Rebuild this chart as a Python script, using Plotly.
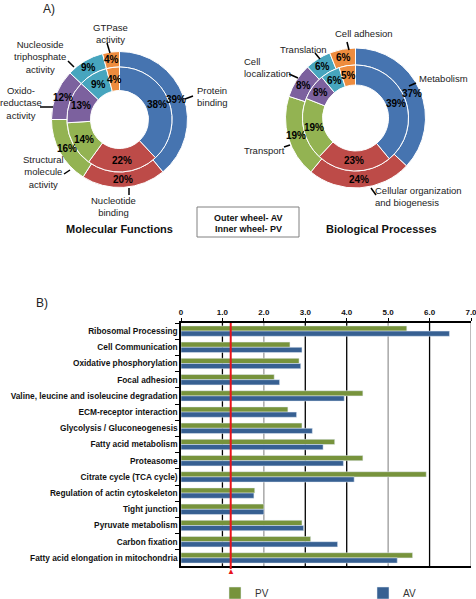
import math
import plotly.graph_objects as go

W, H = 476, 599

# ---------------- Data ----------------
mf_labels = ["Protein binding", "Nucleotide binding", "Structural molecule activity",
             "Oxido-reductase activity", "Nucleoside triphosphate activity", "GTPase activity"]
mf_outer_av = [39, 20, 16, 12, 9, 4]
mf_inner_pv = [38, 22, 14, 13, 9, 4]

bp_labels = ["Metabolism", "Cellular organization and biogenesis", "Transport",
             "Cell localization", "Translation", "Cell adhesion"]
bp_outer_av = [37, 24, 19, 8, 6, 6]
bp_inner_pv = [39, 23, 19, 8, 6, 5]

pie_colors = ["#4674B0", "#BD4B48", "#93B352", "#7C619E", "#47A5BE", "#EE8C3E"]

pathways = ["Ribosomal Processing", "Cell Communication", "Oxidative phosphorylation",
            "Focal adhesion", "Valine, leucine and isoleucine degradation",
            "ECM-receptor interaction", "Glycolysis / Gluconeogenesis",
            "Fatty acid metabolism", "Proteasome", "Citrate cycle (TCA cycle)",
            "Regulation of actin cytoskeleton", "Tight junction", "Pyruvate metabolism",
            "Carbon fixation", "Fatty acid elongation in mitochondria"]
pv_values = [5.45, 2.63, 2.85, 2.25, 4.39, 2.58, 2.92, 3.71, 4.39, 5.92, 1.78, 2.0, 2.92, 3.13, 5.59]
av_values = [6.48, 2.92, 2.89, 2.38, 3.94, 2.79, 3.17, 3.43, 3.92, 4.18, 1.76, 2.0, 2.96, 3.78, 5.22]
threshold = 1.2

x_tickvals = [0, 1, 2, 3, 4, 5, 6, 7]
x_ticktext = ["0", "1.0", "2.0", "3.0", "4.0", "5.0", "6.0", "7.0"]
grid_colors = [None, "#000000", "#9a9a9a", "#000000", "#000000", "#9a9a9a", "#000000", "#9a9a9a"]

FONT = "Arial, Liberation Sans, Helvetica, sans-serif"


def px(x):
    return x / W


def py(y):
    return 1 - y / H


def dom(cx, cy, r):
    return dict(x=[px(cx - r), px(cx + r)], y=[py(cy + r), py(cy - r)])


fig = go.Figure()
annotations = []
shapes = []


def txt(x, y, t, size=9.5, bold=False, align="center", xanchor="center", color="#222222"):
    annotations.append(dict(xref="paper", yref="paper", x=px(x), y=py(y), text=t,
                            showarrow=False, align=align, xanchor=xanchor, yanchor="middle",
                            font=dict(family=FONT, size=size, color=color,
                                      weight="bold" if bold else "normal")))


def seg(xa, ya, xb, yb):
    shapes.append(dict(type="line", xref="paper", yref="paper", x0=px(xa), y0=py(ya),
                       x1=px(xb), y1=py(yb), line=dict(color="black", width=1.5)))


# ---------------- Donuts ----------------
def ring_labels(cx, cy, r_in, r_out, vals):
    total = float(sum(vals))
    cum = 0.0
    rm = (r_in + r_out) / 2.0
    for v in vals:
        ang = (cum + v / 2.0) / total * 2 * math.pi
        cum += v
        txt(cx + rm * math.sin(ang), cy - rm * math.cos(ang), f"{v}%",
            size=10, bold=True, color="#000000")


def add_donut(cx, cy, r_out, r_mid, r_hole, outer_vals, inner_vals, labels):
    common = dict(sort=False, direction="clockwise", rotation=0,
                  marker=dict(colors=pie_colors, line=dict(color="white", width=1)),
                  textinfo="none", showlegend=False, hoverinfo="label+value",
                  labels=labels, automargin=False)
    fig.add_trace(go.Pie(values=outer_vals, domain=dom(cx, cy, r_out),
                         hole=r_mid / r_out, **common))
    fig.add_trace(go.Pie(values=inner_vals, domain=dom(cx, cy, r_mid),
                         hole=r_hole / r_mid, **common))
    ring_labels(cx, cy, r_mid, r_out, outer_vals)
    ring_labels(cx, cy, r_hole, r_mid, inner_vals)


add_donut(119.5, 119.5, 68, 52.5, 29, mf_outer_av, mf_inner_pv, mf_labels)
add_donut(355.5, 118, 70, 53, 33, bp_outer_av, bp_inner_pv, bp_labels)

# ---------------- Bars ----------------
fig.add_trace(go.Bar(y=pathways, x=pv_values, orientation="h", name="PV",
                     marker=dict(color="#77933C"), xaxis="x", yaxis="y", legend="legend"))
fig.add_trace(go.Bar(y=pathways, x=av_values, orientation="h", name="AV",
                     marker=dict(color="#376092"), xaxis="x", yaxis="y", legend="legend2"))

x0, x1 = 181, 471
ytop, ybot = 323, 566

# grid lines
for v, c in zip(x_tickvals, grid_colors):
    if c is None:
        continue
    shapes.append(dict(type="line", xref="x", yref="paper", x0=v, x1=v,
                       y0=py(ybot), y1=py(ytop), line=dict(color=c, width=1.3), layer="below"))

# threshold line
shapes.append(dict(type="line", xref="x", yref="paper", x0=threshold, x1=threshold,
                   y0=py(569), y1=py(ytop), line=dict(color="#E8141B", width=2)))
annotations.append(dict(xref="x", yref="paper", x=threshold, y=py(571), text="▲",
                        showarrow=False, font=dict(size=8, color="#E8141B", family=FONT),
                        xanchor="center", yanchor="middle"))

# ---------------- Text annotations ----------------
txt(49, 9, "A)", size=12, color="#222222")
txt(42, 303, "B)", size=12, color="#222222")

# left donut labels
txt(110, 33, "GTPase<br>activity")
txt(40, 57, "Nucleoside<br>triphosphate<br>activity")
txt(21, 103, "Oxido-<br>reductase<br>activity")
txt(43, 172, "Structural<br>molecule<br>activity")
txt(113, 206.5, "Nucleotide<br>binding")
txt(195, 96, "Protein<br>binding", align="left", xanchor="left")
seg(107, 43, 110, 53)
seg(68, 61, 74, 67)
seg(40, 107, 53, 107)
seg(64, 174, 70, 170)
seg(129, 188, 129, 195)
seg(185, 99, 193, 96)

# right donut labels
txt(364, 33, "Cell adhesion")
txt(303, 49, "Translation")
txt(242, 67, "Cell<br>localization", align="left", xanchor="left")
txt(417, 78, "Metabolism", align="left", xanchor="left")
txt(242, 150, "Transport", align="left", xanchor="left")
txt(373, 196, "Cellular organization<br>and biogenesis", align="left", xanchor="left")
seg(347, 42, 349, 50)
seg(315, 53, 320, 59)
seg(289, 74, 298, 78)
seg(416, 83, 409, 86)
seg(284, 147, 290, 145)
seg(371, 188, 376, 195)

# titles
txt(119, 229, "Molecular Functions", size=11, bold=True, color="#111111")
txt(381, 229, "Biological Processes", size=11, bold=True, color="#111111")

# legend box
shapes.append(dict(type="rect", xref="paper", yref="paper", x0=px(197), x1=px(299),
                   y0=py(237), y1=py(207), line=dict(color="#808080", width=1)))
txt(248, 217.5, "Outer wheel- AV", size=9, bold=True, color="#111111")
txt(248, 229, "Inner wheel- PV", size=9, bold=True, color="#111111")

legend_common = dict(orientation="h", yanchor="middle", xanchor="left",
                     font=dict(family=FONT, size=10, color="#333333"),
                     bgcolor="rgba(0,0,0,0)", borderwidth=0, itemwidth=30)

fig.update_layout(
    width=W, height=H,
    margin=dict(l=0, r=0, t=0, b=0, autoexpand=False),
    paper_bgcolor="white", plot_bgcolor="white",
    font=dict(family=FONT, color="#222222"),
    barmode="group", bargap=0.36, bargroupgap=0,
    xaxis=dict(domain=[px(x0), px(x1)], anchor="y", side="top", range=[0, 7],
               tickvals=x_tickvals, ticktext=x_ticktext, showgrid=False, zeroline=False,
               showline=True, linecolor="black", linewidth=1.5, mirror=True,
               ticks="outside", ticklen=3, tickcolor="black", automargin=False,
               ticklabeloverflow="allow",
               tickfont=dict(family=FONT, size=8, color="#111111", weight="bold")),
    yaxis=dict(domain=[py(ybot), py(ytop)], anchor="x", autorange="reversed",
               type="category", showgrid=False, zeroline=False,
               showline=True, linecolor="black", linewidth=1.5, automargin=False,
               ticks="outside", ticklen=4, tickcolor="black", tickson="boundaries",
               ticklabeloverflow="allow",
               tickfont=dict(family=FONT, size=8.3, color="#111111", weight="bold")),
    legend=dict(x=px(215), y=py(593), **legend_common),
    legend2=dict(x=px(363), y=py(593), **legend_common),
    annotations=annotations,
    shapes=shapes,
)

fig.write_html("out.html", config={"displayModeBar": False},
               post_script="document.body.style.margin='0';document.body.style.overflow='hidden';")
